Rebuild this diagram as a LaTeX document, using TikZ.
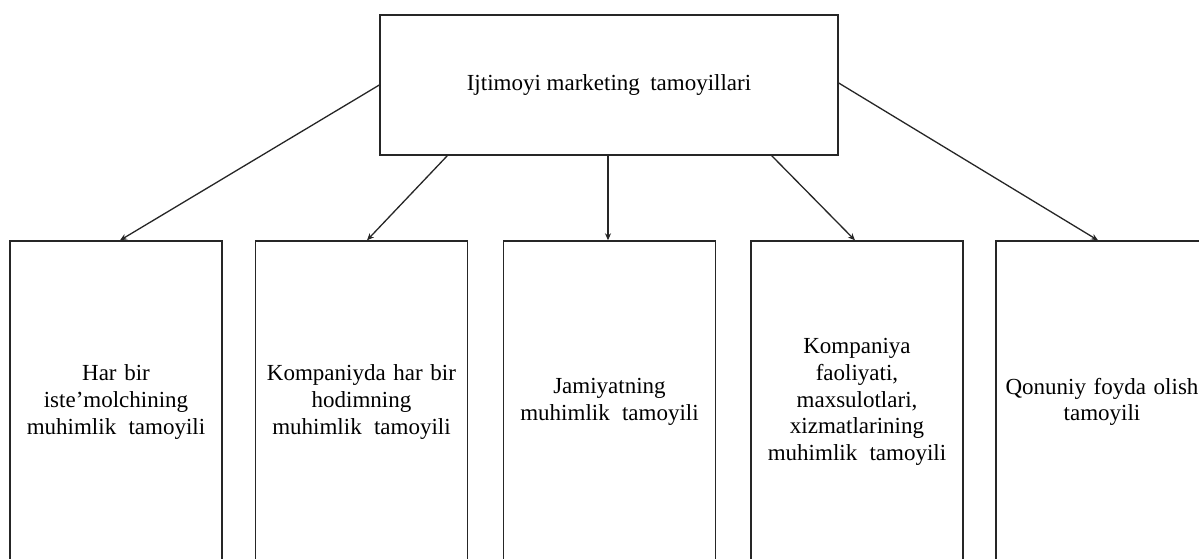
\documentclass[tikz,border=0pt]{standalone}
\usepackage{fontspec}
\setmainfont{Liberation Serif}
\usetikzlibrary{arrows.meta}
\begin{document}
\begin{tikzpicture}[x=1pt,y=-1pt,
  box/.style={draw=black!85, line width=1.4pt, fill=white, align=center,
    inner sep=2pt, font=\fontsize{23}{26.7}\selectfont},
  topbox/.style={box, minimum width=458pt, minimum height=140pt},
  lowbox/.style={box, minimum width=212pt, minimum height=322pt, text width=208pt},
  conn/.style={draw=black!85, line width=1.3pt, -{Stealth[length=7pt,width=6pt]}}]
\useasboundingbox[fill=white] (0,0) rectangle (1199,558);
\node[topbox] (top) at (609,85) {Ijtimoyi marketing\hspace{0.2em} tamoyillari};
\node[lowbox] (b1) at (116,402) {Har bir\\iste’molchining\\muhimlik\hspace{0.2em} tamoyili};
\node[lowbox] (b2) at (361.5,402) {Kompaniyda har bir\\hodimning\\muhimlik\hspace{0.2em} tamoyili};
\node[lowbox] (b3) at (609.5,402) {Jamiyatning\\muhimlik\hspace{0.2em} tamoyili};
\node[lowbox] (b4) at (857,402) {Kompaniya\\faoliyati,\\maxsulotlari,\\xizmatlarining\\muhimlik\hspace{0.2em} tamoyili};
\node[lowbox] (b5) at (1102,402) {Qonuniy foyda olish\\tamoyili};
\draw[conn] (top.west) -- ([xshift=4pt]b1.north);
\draw[conn] ([xshift=68pt]top.south west) -- ([xshift=5.5pt]b2.north);
\draw[conn] ([xshift=-1pt]top.south) -- ([xshift=-1.5pt]b3.north);
\draw[conn] ([xshift=-67pt]top.south east) -- ([xshift=-2pt]b4.north);
\draw[conn] ([yshift=2pt]top.east) -- ([xshift=-4pt]b5.north);
\end{tikzpicture}
\end{document}
